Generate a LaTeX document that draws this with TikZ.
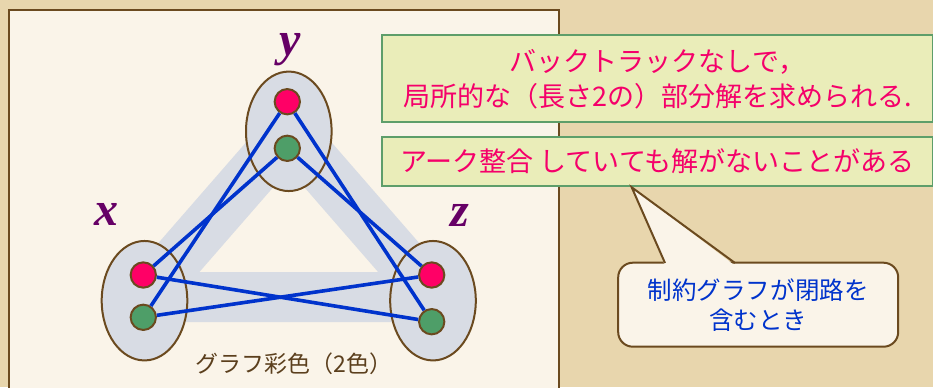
\documentclass[tikz,border=0pt]{standalone}
\usepackage{fontspec}
\newfontfamily\jp{Noto Sans CJK JP}
\newfontfamily\lsf{Liberation Serif}
\usetikzlibrary{shapes.geometric}
\definecolor{bgpaper}{HTML}{E8D6AD}
\definecolor{panelfill}{HTML}{FAF4E9}
\definecolor{brownline}{HTML}{6B4A1F}
\definecolor{bandgray}{HTML}{D8DCE4}
\definecolor{dotred}{HTML}{FF0066}
\definecolor{dotgreen}{HTML}{4E9E68}
\definecolor{edgeblue}{HTML}{0033CC}
\definecolor{varpurple}{HTML}{660066}
\definecolor{boxfill}{HTML}{EAEDB9}
\definecolor{boxborder}{HTML}{5E9E6A}
\definecolor{pinktext}{HTML}{F5006A}
\definecolor{captionbrown}{HTML}{5B3F1D}
\tikzset{
  dom/.style={ellipse, draw=brownline, fill=bandgray, line width=1.5pt, inner sep=0pt,
    minimum width=64.2pt, minimum height=89.6pt},
  val/.style={circle, draw=brownline, line width=1.5pt, inner sep=0pt, minimum size=19pt},
  redval/.style={val, fill=dotred},
  greenval/.style={val, fill=dotgreen},
  edge/.style={draw=edgeblue, line width=2.7pt},
  band/.style={draw=bandgray, line width=37.5pt, line join=round},
  varlab/.style={font=\lsf\bfseries\itshape\fontsize{36pt}{36pt}\selectfont, text=varpurple, inner sep=0pt},
  notebox/.style={rectangle, draw=boxborder, fill=boxfill, line width=1.5pt, inner sep=0pt,
    minimum width=413.25pt, text=pinktext, align=center,
    font=\jp\fontsize{20.25pt}{26.25pt}\selectfont},
  cbox/.style={draw=brownline, fill=panelfill, line width=1.5pt},
}
\begin{document}
\begin{tikzpicture}[x=0.75pt,y=-0.75pt]
\useasboundingbox (0,0) rectangle (933,387);
\clip (0,0) rectangle (933,387);
\fill[bgpaper] (0,0) rectangle (933,387);
% panel
\draw[draw=brownline, fill=panelfill, line width=1.5pt] (9,10) rectangle (559,420);
% band
\coordinate (cy) at (288.8,131.3);
\coordinate (cx) at (144.5,297);
\coordinate (cz) at (433,297);
\draw[band] (cy) -- (cx) -- (cz) -- cycle;
% domains
\node[dom] (dy) at (288.8,131.3) {};
\node[dom] (dx) at (144.5,300.7) {};
\node[dom] (dz) at (433,300.7) {};
% values
\node[redval] (yr) at (287.3,101.7) {};
\node[greenval] (yg) at (287.3,148.3) {};
\node[redval] (xr) at (143.3,275) {};
\node[greenval] (xg) at (143.3,317.3) {};
\node[redval] (zr) at (431.7,275) {};
\node[greenval] (zg) at (431.7,321.7) {};
% edges
\draw[edge] (yr) -- (xg);
\draw[edge] (yr) -- (zg);
\draw[edge] (yg) -- (xr);
\draw[edge] (yg) -- (zr);
\draw[edge] (xr) -- (zg);
\draw[edge] (xg) -- (zr);
% labels
\node[varlab, anchor=base] (ly) at (290,55.5) {y};
\node[varlab, anchor=base] (lx) at (106,225) {x};
\node[varlab, anchor=base] (lz) at (460,226.5) {z};
\node[font=\jp\fontsize{17.25pt}{20pt}\selectfont, text=captionbrown] (cap) at (294,364) {グラフ彩色（2色）};
% note boxes
\node[notebox, anchor=north west, minimum height=65.25pt] (n1) at (381,34.3)
  {バックトラックなしで，\\局所的な（長さ2の）部分解を求められる.};
\node[notebox, anchor=north west, minimum height=36.75pt] (n2) at (381,136)
  {アーク整合 していても解がないことがある};
% callout
\coordinate (tip) at (631.7,187.3);
\coordinate (bl) at (665,263);
\coordinate (br) at (735,263);
\node[cbox, rounded corners=11pt, minimum width=210pt, minimum height=63pt, inner sep=0pt,
  text=edgeblue, align=center, font=\jp\fontsize{18.4pt}{22.5pt}\selectfont] (cl) at (758.2,304.7)
  {制約グラフが閉路を\\含むとき};
\fill[panelfill] ([yshift=-2pt]bl) -- (tip) -- ([yshift=-2pt]br) -- cycle;
\draw[draw=brownline, line width=1.5pt, line join=miter] (bl) -- (tip) -- (br);
\end{tikzpicture}
\end{document}
